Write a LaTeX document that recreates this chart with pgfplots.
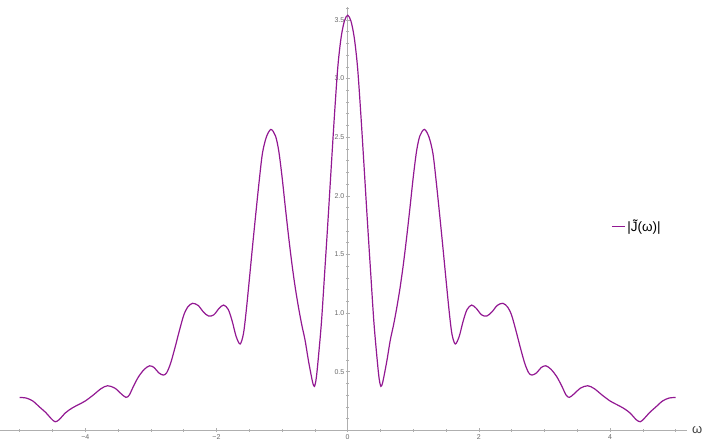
\documentclass[border=0pt]{standalone}
\usepackage{fontspec}
\setmainfont{Liberation Sans}
\usepackage{pgfplots}
\pgfplotsset{compat=1.18}
\definecolor{curve}{RGB}{146,24,146}
\definecolor{axgray}{RGB}{175,175,175}
\definecolor{labgray}{RGB}{105,105,105}
\begin{document}
\begin{tikzpicture}
\useasboundingbox (0pt,-10.7pt) rectangle (706pt,430.3pt);
\begin{axis}[
  at={(0pt,0pt)}, anchor=south west,
  scale only axis, width=686.8pt, height=423.3pt,
  xmin=-5.3, xmax=5.17, ymin=0, ymax=3.61,
  axis lines=middle,
  axis line style={-, draw=axgray, line width=0.6pt},
  every tick/.style={draw=axgray, line width=0.5pt},
  major tick length=4pt, minor tick length=2.5pt,
  xtick={-4,-2,0,2,4},
  xticklabels={−4,−2,0,2,4},
  minor xtick={-5,-4.5,-3.5,-3,-2.5,-1.5,-1,-0.5,0.5,1,1.5,2.5,3,3.5,4.5,5},
  ytick={0.5,1,1.5,2,2.5,3,3.5},
  yticklabels={0.5,1.0,1.5,2.0,2.5,3.0,3.5},
  minor ytick={0.1,0.2,0.3,0.4,0.6,0.7,0.8,0.9,1.1,1.2,1.3,1.4,1.6,1.7,1.8,1.9,2.1,2.2,2.3,2.4,2.6,2.7,2.8,2.9,3.1,3.2,3.3,3.4,3.6},
  hide obscured x ticks=false,
  hide obscured y ticks=false,
  tick label style={font=\fontsize{7}{8}\selectfont, text=labgray},
  xticklabel style={inner sep=1pt, yshift=-1pt},
  yticklabel style={inner sep=1.2pt},
  xlabel={ω},
  xlabel style={at={(axis description cs:1,0)}, anchor=west, inner sep=0pt, font=\fontsize{13}{14}\selectfont, text=labgray!60!black, xshift=5pt},
  legend style={draw=none, fill=none, at={(axis description cs:0.8896,0.481)}, anchor=west, inner sep=0pt, font=\fontsize{13.5}{15}\selectfont},
  legend image code/.code={\draw[#1] (0pt,0pt) -- (13pt,0pt);},
  clip=false,
]
\addplot[color=curve, line width=1.2pt, smooth, tension=0.5] coordinates {
(-5.00,0.28) (-4.90,0.275) (-4.80,0.25) (-4.70,0.20) (-4.60,0.15) (-4.52,0.10) (-4.46,0.073) (-4.40,0.09) (-4.30,0.15) (-4.20,0.19) (-4.10,0.22) (-4.00,0.25) (-3.88,0.30) (-3.76,0.355) (-3.66,0.38) (-3.55,0.36) (-3.45,0.31) (-3.38,0.281) (-3.33,0.30) (-3.27,0.37) (-3.19,0.455) (-3.10,0.52) (-3.02,0.55) (-2.95,0.535) (-2.88,0.49) (-2.81,0.471) (-2.76,0.49) (-2.70,0.57) (-2.63,0.71) (-2.57,0.84) (-2.50,0.98) (-2.44,1.05) (-2.366,1.083) (-2.28,1.065) (-2.20,1.01) (-2.12,0.974) (-2.04,0.985) (-1.96,1.04) (-1.89,1.068) (-1.82,1.03) (-1.76,0.93) (-1.70,0.80) (-1.64,0.736) (-1.59,0.82) (-1.55,1.00) (-1.50,1.28) (-1.45,1.57) (-1.40,1.85) (-1.35,2.12) (-1.30,2.36) (-1.24,2.50) (-1.17,2.566) (-1.10,2.51) (-1.05,2.38) (-1.00,2.16) (-0.95,1.90) (-0.90,1.65) (-0.85,1.42) (-0.80,1.22) (-0.75,1.05) (-0.70,0.90) (-0.65,0.77) (-0.60,0.60) (-0.56,0.48) (-0.53,0.40) (-0.506,0.375) (-0.48,0.44) (-0.45,0.60) (-0.40,0.92) (-0.35,1.35) (-0.30,1.79) (-0.25,2.25) (-0.20,2.70) (-0.15,3.10) (-0.10,3.35) (-0.05,3.49)
(0.00,3.54)
(0.05,3.49) (0.10,3.35) (0.15,3.10) (0.20,2.70) (0.25,2.25) (0.30,1.79) (0.35,1.35) (0.40,0.92) (0.45,0.60) (0.48,0.44) (0.506,0.375) (0.53,0.40) (0.56,0.48) (0.60,0.60) (0.65,0.77) (0.70,0.90) (0.75,1.05) (0.80,1.22) (0.85,1.42) (0.90,1.65) (0.95,1.90) (1.00,2.16) (1.05,2.38) (1.10,2.51) (1.17,2.566) (1.24,2.50) (1.30,2.36) (1.35,2.12) (1.40,1.85) (1.45,1.57) (1.50,1.28) (1.55,1.00) (1.59,0.82) (1.64,0.736) (1.70,0.80) (1.76,0.93) (1.82,1.03) (1.89,1.068) (1.96,1.04) (2.04,0.985) (2.12,0.974) (2.20,1.01) (2.28,1.065) (2.366,1.083) (2.44,1.05) (2.50,0.98) (2.57,0.84) (2.63,0.71) (2.70,0.57) (2.76,0.49) (2.81,0.471) (2.88,0.49) (2.95,0.535) (3.02,0.55) (3.10,0.52) (3.19,0.455) (3.27,0.37) (3.33,0.30) (3.38,0.281) (3.45,0.31) (3.55,0.36) (3.66,0.38) (3.76,0.355) (3.88,0.30) (4.00,0.25) (4.10,0.22) (4.20,0.19) (4.30,0.15) (4.40,0.09) (4.46,0.073) (4.52,0.10) (4.60,0.15) (4.70,0.20) (4.80,0.25) (4.90,0.275) (5.00,0.28)
};
\addlegendentry{|\~J(ω)|}
\end{axis}
\end{tikzpicture}
\end{document}
